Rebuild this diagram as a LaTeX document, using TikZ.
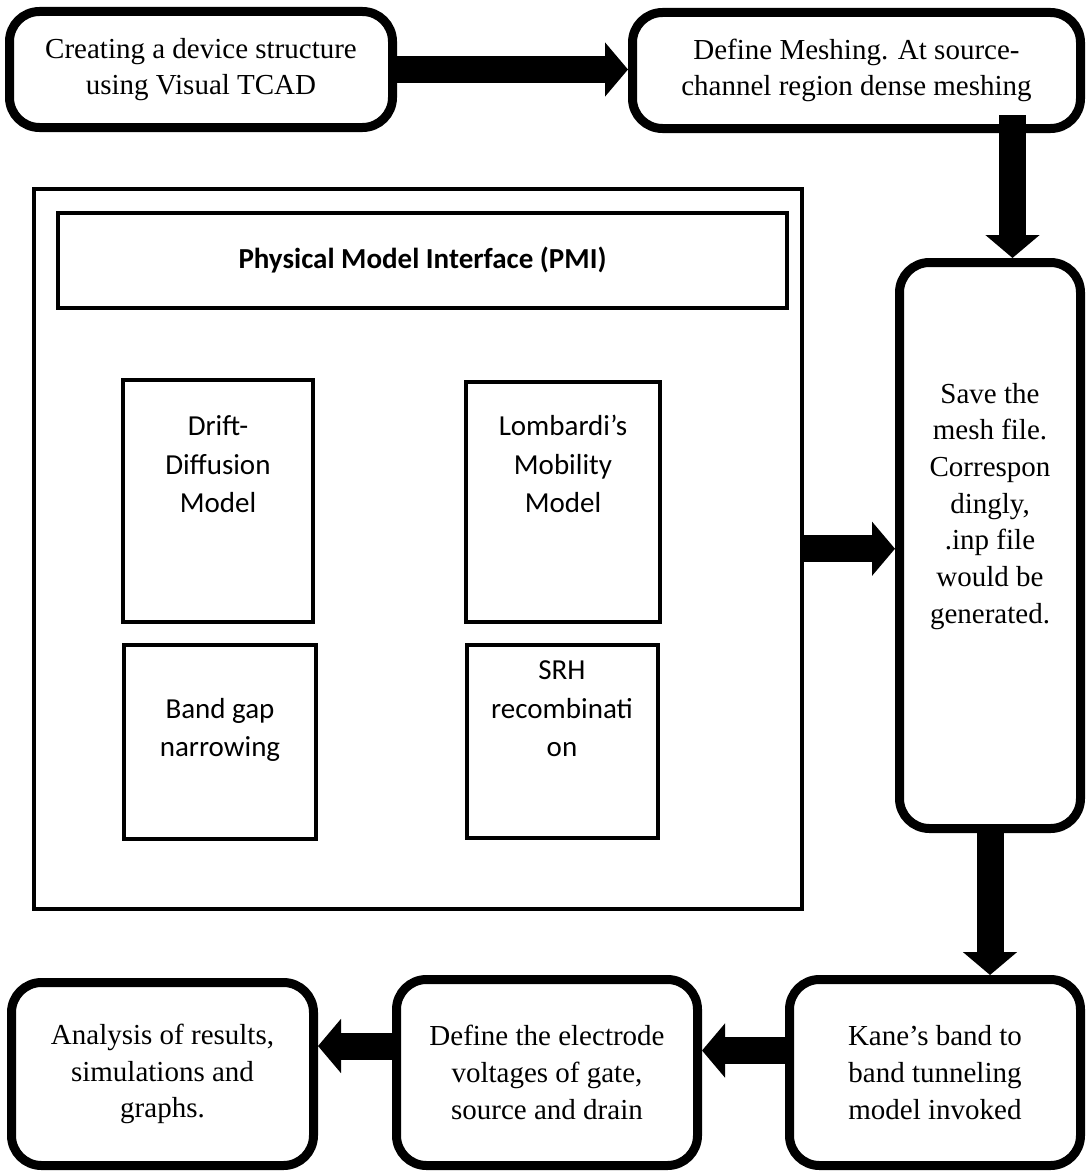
\documentclass[tikz,border=0pt]{standalone}
\usepackage{fontspec}
\setmainfont{Liberation Serif}
\newfontfamily\calibri{Carlito}
\usetikzlibrary{arrows.meta}
\newcommand{\topped}[2]{\parbox[c][#1][t]{150pt}{\centering\strut #2}}

\begin{document}
\begin{tikzpicture}[
    flow/.style={draw, line width=9pt, rounded corners=30pt, align=center,
      font=\fontsize{29}{36.7}\selectfont},
    model/.style={draw, line width=4pt, font=\calibri\fontsize{29}{38.5}\selectfont},
    bigarrow/.style={line width=27pt, -{Triangle[length=23pt,width=53pt]}}]
  \useasboundingbox (0pt,0pt) rectangle (1085pt,-1172pt);
  \draw (201pt, -69.5pt)node[flow, minimum width=383pt, minimum height=116pt](create){Creating a device structure\\using Visual TCAD};
  \draw (856.5pt, -70.5pt)node[flow, minimum width=448pt, minimum height=116pt](mesh){Define Meshing. At source-\\channel region dense meshing};
  \draw (990pt, -545.5pt)node[flow, minimum width=181pt, minimum height=566pt](save){\topped{336pt}{Save the\\mesh file.\\Correspon\\dingly,\\.inp file\\would be\\generated.}};
  \draw (935pt, -1072.5pt)node[flow, minimum width=291pt, minimum height=186pt](kane){Kane’s band to\\band tunneling\\model invoked};
  \draw (547pt, -1072.5pt)node[flow, minimum width=301pt, minimum height=186pt](electrode){Define the electrode\\voltages of gate,\\source and drain};
  \draw (162.5pt, -1074pt)node[flow, minimum width=302pt, minimum height=183pt](analysis){Analysis of results,\\simulations and\\graphs.};
  % physical models
  \draw (417.75pt, -548.75pt)node[model, minimum width=767.5pt, minimum height=719.5pt](pmi){};
  \draw (422.5pt, -260.4pt)node[model, minimum width=729pt, minimum height=95.8pt, font=\calibri\bfseries\fontsize{29}{35}\selectfont](pmititle){Physical Model Interface (PMI)};
  \draw (218pt, -501pt)node[model, minimum width=190.6pt, minimum height=242pt](drift){\topped{184pt}{Drift-\\Diffusion\\Model}};
  \draw (563pt, -502pt)node[model, minimum width=193.7pt, minimum height=240pt](lombardi){\topped{186pt}{Lombardi’s\\Mobility\\Model}};
  \draw (220pt, -742pt)node[model, minimum width=192.5pt, minimum height=194pt](bandgap){\topped{101pt}{Band gap\\narrowing}};
  \draw (562pt, -741.5pt)node[model, minimum width=191pt, minimum height=193pt](srh){\topped{177pt}{SRH\\recombinati\\on}};
  \coordinate (savein) at ([xshift=22.5pt]save.north);
  \coordinate (meshout) at ([yshift=18pt]mesh.south -| savein);
  \coordinate (kaneout) at ([yshift=22pt]kane.west);
  \coordinate (electrodeout) at ([yshift=26.5pt]electrode.west);
  \path[bigarrow] (create.east) edge (create.east -| mesh.west);
  \path[bigarrow] (meshout) edge (savein);
  \path[bigarrow] (pmi.east) edge (pmi.east -| save.west);
  \path[bigarrow] (save.south) edge (save.south |- kane.north);
  \path[bigarrow] (kaneout) edge (kaneout -| electrode.east);
  \path[bigarrow] (electrodeout) edge (electrodeout -| analysis.east);
\end{tikzpicture}
\end{document}
